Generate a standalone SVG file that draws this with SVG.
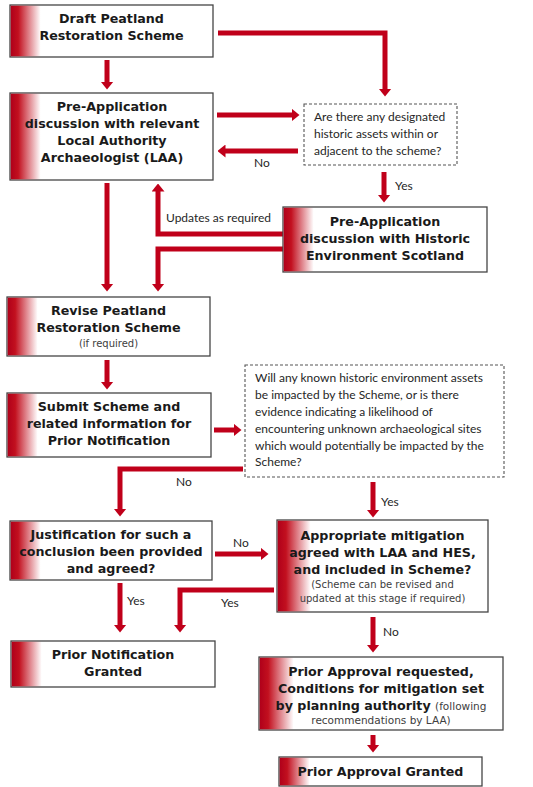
<svg xmlns="http://www.w3.org/2000/svg" width="533" height="787" viewBox="0 0 533 787">
<defs>
<linearGradient id="grad" x1="0" y1="0" x2="1" y2="0">
<stop offset="0" stop-color="#b0001a"/>
<stop offset="0.25" stop-color="#c2101f"/>
<stop offset="1" stop-color="#c2101f" stop-opacity="0"/>
</linearGradient>
<marker id="ah" viewBox="0 0 8 13" refX="0.5" refY="6.5" markerWidth="8" markerHeight="13" markerUnits="userSpaceOnUse" orient="auto">
<path d="M0,0 L8,6.5 L0,13 z" fill="#c0001a"/>
</marker>
<style>
.box{fill:#fff;stroke:#454545;stroke-width:1.3}
.dash{fill:#fff;stroke:#555;stroke-width:1.1;stroke-dasharray:3,2}
.g{fill:url(#grad)}
.t{font-family:"DejaVu Sans",Verdana,sans-serif;font-weight:bold;font-size:12.7px;fill:#1a1a1a;text-anchor:middle}
.s{font-family:"DejaVu Sans",Verdana,sans-serif;font-weight:normal;font-size:10px;fill:#404040}
.q{font-family:Lato,"Liberation Sans",sans-serif;font-size:12px;fill:#262626}
.c{fill:none;stroke:#c0001a;stroke-width:5;marker-end:url(#ah)}
</style>
</defs>
<rect width="533" height="787" fill="#fff"/>

<g id="connectors">
<path class="c" d="M218,33 H385 V89"/>
<path class="c" d="M107,60 V82"/>
<path class="c" d="M217,115 H292"/>
<path class="c" d="M298,151 H225"/>
<path class="c" d="M384,172 V195"/>
<path class="c" d="M283,234 H158 V191"/>
<path class="c" d="M283,249 H158 V284"/>
<path class="c" d="M107,183 V284"/>
<path class="c" d="M107,360 V382"/>
<path class="c" d="M214,430 H234"/>
<path class="c" d="M243,469 H120 V509"/>
<path class="c" d="M373,482 V510"/>
<path class="c" d="M215,554 H261"/>
<path class="c" d="M274,590 H180 V625"/>
<path class="c" d="M120,583 V625"/>
<path class="c" d="M373,617 V645"/>
<path class="c" d="M373,735 V745"/>
<g class="q">
<text x="254" y="167">No</text>
<text x="395" y="190">Yes</text>
<text x="166" y="222">Updates as required</text>
<text x="176" y="486">No</text>
<text x="381" y="506">Yes</text>
<text x="233" y="547">No</text>
<text x="127" y="605">Yes</text>
<text x="221" y="607">Yes</text>
<text x="383" y="636">No</text>
</g>
</g>

<g id="draft">
<rect class="box" x="10" y="5" width="203" height="52"/>
<rect class="g" x="10.7" y="5.7" width="30" height="50.6"/>
<text class="t"><tspan x="111.5" y="23">Draft Peatland</tspan><tspan x="111.5" y="40">Restoration Scheme</tspan></text>
</g>

<g id="laa">
<rect class="box" x="10" y="93" width="203" height="87"/>
<rect class="g" x="10.7" y="93.7" width="30" height="85.6"/>
<text class="t"><tspan x="112" y="111">Pre-Application</tspan><tspan x="112" y="128">discussion with relevant</tspan><tspan x="112" y="145">Local Authority</tspan><tspan x="112" y="162">Archaeologist (LAA)</tspan></text>
</g>

<g id="q1">
<rect class="dash" x="304" y="104" width="153" height="61"/>
<text class="q"><tspan x="314" y="121">Are there any designated</tspan><tspan x="314" y="138">historic assets within or</tspan><tspan x="314" y="155">adjacent to the scheme?</tspan></text>
</g>

<g id="hes">
<rect class="box" x="283" y="207" width="204" height="65"/>
<rect class="g" x="283.7" y="207.7" width="30" height="63.6"/>
<text class="t"><tspan x="385" y="226">Pre-Application</tspan><tspan x="385" y="243">discussion with Historic</tspan><tspan x="385" y="260">Environment Scotland</tspan></text>
</g>

<g id="revise">
<rect class="box" x="7" y="297" width="203" height="59"/>
<rect class="g" x="7.7" y="297.7" width="30" height="57.6"/>
<text class="t"><tspan x="108.5" y="315">Revise Peatland</tspan><tspan x="108.5" y="332">Restoration Scheme</tspan></text>
<text class="s" x="108.5" y="347" text-anchor="middle">(if required)</text>
</g>

<g id="submit">
<rect class="box" x="7" y="393" width="204" height="64"/>
<rect class="g" x="7.7" y="393.7" width="30" height="62.6"/>
<text class="t"><tspan x="109" y="411">Submit Scheme and</tspan><tspan x="109" y="428">related information for</tspan><tspan x="109" y="445">Prior Notification</tspan></text>
</g>

<g id="q2">
<rect class="dash" x="245" y="365" width="259" height="112"/>
<text class="q"><tspan x="255" y="382">Will any known historic environment assets</tspan><tspan x="255" y="399">be impacted by the Scheme, or is there</tspan><tspan x="255" y="416">evidence indicating a likelihood of</tspan><tspan x="255" y="433">encountering unknown archaeological sites</tspan><tspan x="255" y="450">which would potentially be impacted by the</tspan><tspan x="255" y="466">Scheme?</tspan></text>
</g>

<g id="justification">
<rect class="box" x="10" y="521" width="202" height="59"/>
<rect class="g" x="10.7" y="521.7" width="30" height="57.6"/>
<text class="t"><tspan x="111" y="539">Justification for such a</tspan><tspan x="111" y="556">conclusion been provided</tspan><tspan x="111" y="573">and agreed?</tspan></text>
</g>

<g id="mitigation">
<rect class="box" x="277" y="520" width="211" height="92"/>
<rect class="g" x="277.7" y="520.7" width="33" height="90.6"/>
<text class="t"><tspan x="382.5" y="540">Appropriate mitigation</tspan><tspan x="382.5" y="557">agreed with LAA and HES,</tspan><tspan x="382.5" y="574">and included in Scheme?</tspan></text>
<text class="s" text-anchor="middle"><tspan x="382.5" y="588">(Scheme can be revised and</tspan><tspan x="382.5" y="602">updated at this stage if required)</tspan></text>
</g>

<g id="pn-granted">
<rect class="box" x="11" y="641" width="204" height="46"/>
<rect class="g" x="11.7" y="641.7" width="30" height="44.6"/>
<text class="t"><tspan x="113" y="659">Prior Notification</tspan><tspan x="113" y="676">Granted</tspan></text>
</g>

<g id="pa-requested">
<rect class="box" x="259" y="657" width="244" height="73"/>
<rect class="g" x="259.7" y="657.7" width="34" height="71.6"/>
<text class="t"><tspan x="381" y="676">Prior Approval requested,</tspan><tspan x="381" y="693">Conditions for mitigation set</tspan><tspan x="381" y="710">by planning authority <tspan class="s" style="font-weight:normal;font-size:10.5px">(following</tspan></tspan></text>
<text class="s" x="381" y="724" text-anchor="middle" style="font-size:10.5px">recommendations by LAA)</text>
</g>

<g id="pa-granted">
<rect class="box" x="279" y="757" width="203" height="29"/>
<rect class="g" x="279.7" y="757.7" width="30" height="27.6"/>
<text class="t" x="380.5" y="776">Prior Approval Granted</text>
</g>
</svg>
